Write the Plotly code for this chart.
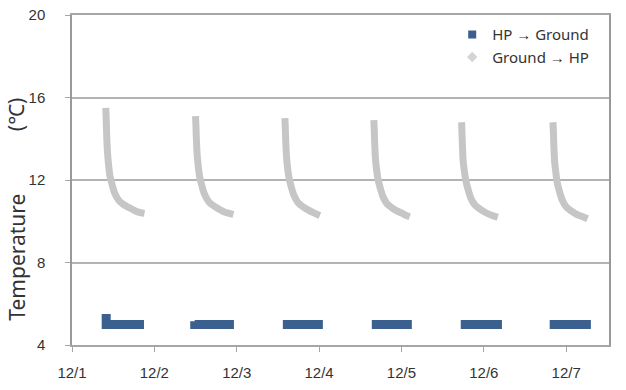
import plotly.graph_objects as go

# ---- data (time in days from 12/1 00:00) ----
tick_vals = [0, 1, 2, 3, 4, 5, 6]
tick_labels = ["12/1", "12/2", "12/3", "12/4", "12/5", "12/6", "12/7"]
y_ticks = [4, 8, 12, 16, 20]

# Ground -> HP (gray curves), one list per cycle
g1_x = [0.41, 0.415, 0.42, 0.43, 0.445, 0.46, 0.485, 0.52, 0.57, 0.63, 0.70, 0.77, 0.83, 0.88]
g1_y = [15.5, 15.0, 14.3, 13.4, 12.7, 12.2, 11.8, 11.35, 11.0, 10.8, 10.65, 10.5, 10.42, 10.38]
g2_x = [1.50, 1.505, 1.51, 1.52, 1.535, 1.55, 1.575, 1.61, 1.66, 1.72, 1.78, 1.85, 1.91, 1.96]
g2_y = [15.1, 14.6, 14.0, 13.2, 12.6, 12.15, 11.75, 11.3, 10.95, 10.75, 10.6, 10.45, 10.38, 10.33]
g3_x = [2.585, 2.59, 2.595, 2.605, 2.62, 2.635, 2.66, 2.695, 2.745, 2.805, 2.865, 2.93, 2.98, 3.01]
g3_y = [15.0, 14.5, 13.9, 13.1, 12.5, 12.1, 11.7, 11.25, 10.9, 10.7, 10.55, 10.42, 10.33, 10.28]
g4_x = [3.665, 3.67, 3.675, 3.685, 3.70, 3.715, 3.74, 3.775, 3.825, 3.885, 3.945, 4.01, 4.06, 4.10]
g4_y = [14.9, 14.4, 13.8, 13.0, 12.45, 12.05, 11.65, 11.2, 10.85, 10.65, 10.5, 10.38, 10.28, 10.22]
g5_x = [4.73, 4.735, 4.74, 4.75, 4.765, 4.78, 4.805, 4.84, 4.89, 4.95, 5.01, 5.075, 5.125, 5.17]
g5_y = [14.8, 14.3, 13.7, 12.9, 12.4, 12.0, 11.6, 11.15, 10.8, 10.6, 10.45, 10.32, 10.25, 10.2]
g6_x = [5.84, 5.845, 5.85, 5.86, 5.875, 5.89, 5.915, 5.95, 6.0, 6.06, 6.12, 6.18, 6.23, 6.26]
g6_y = [14.8, 14.3, 13.7, 12.9, 12.35, 11.9, 11.5, 11.05, 10.7, 10.5, 10.35, 10.25, 10.17, 10.12]

# HP -> Ground (blue segments), one list per cycle
h1_x = [0.415, 0.415, 0.874]
h1_y = [5.5, 5.0, 5.0]
h2_x = [1.49, 1.49, 1.966]
h2_y = [5.15, 5.0, 5.0]
h3_x = [2.56, 3.046]
h3_y = [5.0, 5.0]
h4_x = [3.64, 4.126]
h4_y = [5.0, 5.0]
h5_x = [4.72, 5.22]
h5_y = [5.0, 5.0]
h6_x = [5.80, 6.30]
h6_y = [5.0, 5.0]

BLUE = "#3B5F8E"
GRAY = "#C6C6C6"
AXIS = "#A6A6A6"
TEXT = "#333333"

fig = go.Figure()
for gx, gy in [(g1_x, g1_y), (g2_x, g2_y), (g3_x, g3_y), (g4_x, g4_y), (g5_x, g5_y), (g6_x, g6_y)]:
    fig.add_trace(go.Scatter(x=gx, y=gy, mode="lines",
                             line=dict(color=GRAY, width=7, shape="spline", smoothing=0.8),
                             showlegend=False, hoverinfo="skip"))
for hx, hy in [(h1_x, h1_y), (h2_x, h2_y), (h3_x, h3_y), (h4_x, h4_y), (h5_x, h5_y), (h6_x, h6_y)]:
    fig.add_trace(go.Scatter(x=hx, y=hy, mode="lines", line=dict(color=BLUE, width=9),
                             showlegend=False, hoverinfo="skip"))
# legend entries
fig.add_trace(go.Scatter(x=[None], y=[None], mode="markers", name="HP → Ground",
                         marker=dict(symbol="square", color=BLUE, size=8)))
fig.add_trace(go.Scatter(x=[None], y=[None], mode="markers", name="Ground → HP",
                         marker=dict(symbol="diamond", color="#D4D4D4", size=8)))

fig.update_layout(
    width=626, height=390,
    margin=dict(l=72, r=17, t=15, b=45, autoexpand=False),
    paper_bgcolor="white", plot_bgcolor="white",
    font=dict(family="Liberation Sans, Arial, sans-serif", size=15, color=TEXT),
    legend=dict(x=0.708, y=0.99, xanchor="left", yanchor="top",
                bgcolor="rgba(255,255,255,0)", font=dict(family="Noto Sans", size=15, color=TEXT),
                tracegroupgap=0, itemwidth=30),
    xaxis=dict(range=[0, 6.52], tickvals=tick_vals, ticktext=tick_labels, automargin=False,
               showgrid=False, zeroline=False, showline=True, linecolor=AXIS, linewidth=1.5,
               mirror=True,
               ticks="outside", ticklen=5, tickcolor=AXIS, tickwidth=1,
               ticklabelstandoff=8, tickfont=dict(size=15, color=TEXT)),
    yaxis=dict(range=[4, 20], tickvals=y_ticks, automargin=False,
               showgrid=True, gridcolor="#B3B3B3", gridwidth=1.5,
               zeroline=False, showline=True, linecolor="#999999", linewidth=1.5, mirror=True,
               ticks="outside", ticklen=5, tickcolor=AXIS, tickwidth=1,
               ticklabeloverflow="allow",
               ticklabelstandoff=17, tickfont=dict(size=15, color=TEXT)),
)

fig.add_annotation(text="Temperature", textangle=-90, xref="paper", yref="paper",
                   x=-0.104, y=0.265, xanchor="center", yanchor="middle", showarrow=False,
                   font=dict(family="Noto Sans", size=21, color=TEXT))
fig.add_annotation(text="(℃)", textangle=-90, xref="paper", yref="paper",
                   x=-0.104, y=0.70, xanchor="center", yanchor="middle", showarrow=False,
                   font=dict(family="Noto Sans", size=21, color=TEXT))

fig.write_html("out.html", config={"displayModeBar": False},
               post_script="document.body.style.margin='0';document.body.style.padding='0';")
